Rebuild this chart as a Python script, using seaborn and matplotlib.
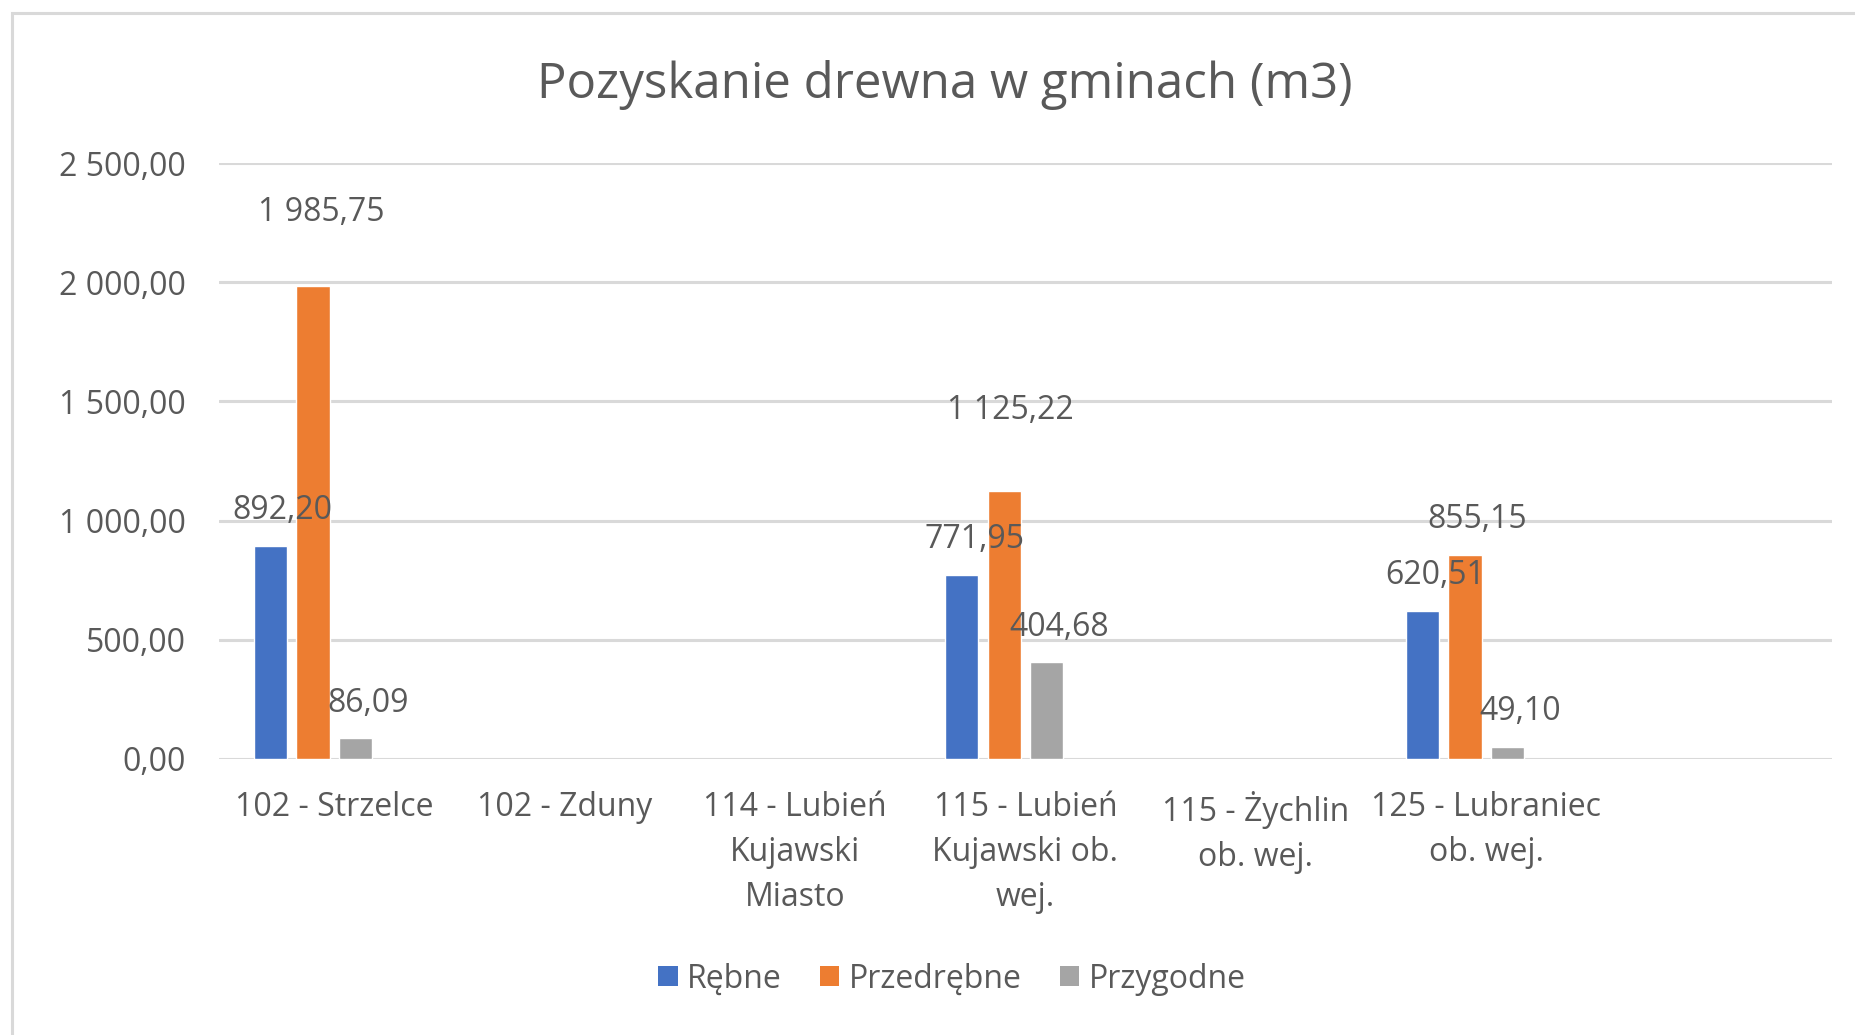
import numpy as np
import pandas as pd
import matplotlib.pyplot as plt
from matplotlib.patches import Patch, Rectangle
import seaborn as sns

# ==========================
# DATA
# ==========================

gminy = [
    "102 - Strzelce",
    "102 - Zduny",
    "114 - Lubień Kujawski Miasto",
    "115 - Lubień Kujawski ob. wej.",
    "115 - Żychlin ob. wej.",
    "125 - Lubraniec ob. wej.",
    "",
]

tick_labels = [
    "102 - Strzelce",
    "102 - Zduny",
    "114 - Lubień\nKujawski\nMiasto",
    "115 - Lubień\nKujawski ob.\nwej.",
    "115 - Żychlin\nob. wej.",
    "125 - Lubraniec\nob. wej.",
    "",
]

rebne = [892.20, np.nan, np.nan, 771.95, np.nan, 620.51, np.nan]
przedrebne = [1985.75, np.nan, np.nan, 1125.22, np.nan, 855.15, np.nan]
przygodne = [86.09, np.nan, np.nan, 404.68, np.nan, 49.10, np.nan]

serie = ["Rębne", "Przedrębne", "Przygodne"]

# fourth (empty) series keeps the Excel cluster spacing
pusta_seria = "_"

kolory = ["#4472C4", "#ED7D31", "#A5A5A5", "#FFC000"]

y_ticks = [0, 500, 1000, 1500, 2000, 2500]

TEXT = "#595959"
GRID = "#D9D9D9"


def pl_format(v):
    return f"{v:,.2f}".replace(",", " ").replace(".", ",")


data = pd.DataFrame({
    "Gmina": gminy * 3,
    "Rodzaj": [s for s in serie for _ in gminy],
    "m3": rebne + przedrebne + przygodne,
})

# ==========================
# FIGURE
# ==========================

sns.set_theme(style="white")
plt.rcParams["font.family"] = ["Open Sans", "DejaVu Sans"]

fig = plt.figure(figsize=(18.56, 10.35), dpi=100)

ax = fig.add_axes([0.118, 0.2667, 0.869, 0.5758])

sns.barplot(
    data=data,
    x="Gmina",
    y="m3",
    hue="Rodzaj",
    order=gminy,
    hue_order=serie + [pusta_seria],
    palette=kolory,
    width=0.74,
    gap=0.22,
    saturation=1,
    legend=False,
    ax=ax,
)

ax.set_xlim(-0.5, len(gminy) - 0.5)
ax.set_ylim(0, 2500)

ax.set_yticks(y_ticks)
ax.set_yticklabels([pl_format(v) for v in y_ticks])
ax.set_xticks(range(len(gminy)))
ax.set_xticklabels(tick_labels, linespacing=1.48)

ax.tick_params(axis="y", length=0, pad=24, labelsize=23, labelcolor=TEXT)
ax.tick_params(axis="x", length=0, pad=23, labelsize=23, labelcolor=TEXT)

ax.set_xlabel("")
ax.set_ylabel("")

for side in ax.spines.values():
    side.set_visible(False)

ax.yaxis.grid(True, color=GRID, linewidth=2.2)
ax.set_axisbelow(True)

# ==========================
# DATA LABELS
# ==========================

# extra shift (points) for labels that were moved by hand
label_nudge = {
    ("102 - Strzelce", "Przedrębne"): (-3, 27),
    ("115 - Lubień Kujawski ob. wej.", "Przedrębne"): (-4.5, 32),
}

for container, rodzaj in zip(ax.containers, serie):

    for bar in container:

        h = bar.get_height()

        if np.isnan(h):
            continue

        cx = bar.get_x() + bar.get_width() / 2

        gmina = gminy[int(round(cx))]

        ndx, ndy = label_nudge.get((gmina, rodzaj), (0, 0))

        ax.annotate(
            pl_format(h),
            xy=(cx, h),
            xytext=(9 + ndx, 25.5 + ndy),
            textcoords="offset points",
            ha="center",
            va="center",
            fontsize=23,
            color=TEXT,
        )

# ==========================
# TITLE, LEGEND, BORDER
# ==========================

fig.text(
    0.509,
    0.918,
    "Pozyskanie drewna w gminach (m3)",
    ha="center",
    va="center",
    fontsize=35.5,
    color=TEXT,
)

handles = [
    Patch(facecolor=kolory[i], edgecolor="none", label=serie[i])
    for i in range(len(serie))
]

fig.legend(
    handles=handles,
    loc="center",
    bbox_to_anchor=(0.513, 0.054),
    ncol=3,
    frameon=False,
    fontsize=23,
    labelcolor=TEXT,
    handlelength=0.6,
    handleheight=0.6,
    handletextpad=0.3,
    columnspacing=1.2,
)

fig.add_artist(
    Rectangle(
        (0.0065, -0.1),
        1.2,
        1.1 - 0.0125,
        transform=fig.transFigure,
        fill=False,
        edgecolor=GRID,
        linewidth=2.2,
    )
)

fig.savefig("out.png", dpi=100)
